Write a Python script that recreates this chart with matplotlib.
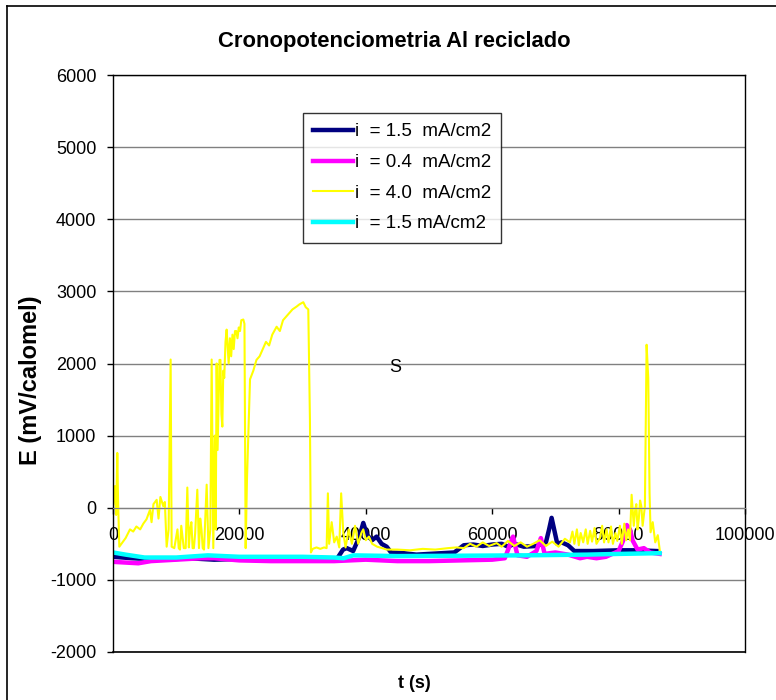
import matplotlib
matplotlib.use("Agg")
import matplotlib.pyplot as plt
from matplotlib.lines import Line2D

plt.rcParams['font.family'] = ['Liberation Sans', 'DejaVu Sans']

# ---------------- data ----------------
t_navy = [0, 3000, 8000, 12000, 16000, 20000, 25000, 30000, 34000, 35500, 36400, 37000,
          38000, 39000, 39600, 40200, 41000, 41700, 42500, 43300, 44000, 46000, 48000,
          50000, 52000, 54000, 55500, 57000, 58500, 60000, 61500, 62500, 63500, 65000,
          67000, 68500, 69000, 69400, 69800, 70300, 71000, 72000, 73000, 76000, 80000,
          83000, 86000]
e_navy = [-680, -700, -720, -700, -720, -710, -720, -710, -700, -700, -580, -560,
          -600, -400, -210, -380, -450, -400, -500, -540, -620, -630, -650,
          -640, -630, -620, -520, -510, -530, -510, -500, -540, -500, -540,
          -530, -480, -300, -140, -300, -500, -480, -520, -600, -600, -590,
          -590, -600]

t_mag = [0, 2000, 4000, 6000, 8000, 10000, 14000, 16000, 20000, 25000, 30000, 35000,
         40000, 45000, 50000, 55000, 60000, 62000, 63300, 64000, 65500, 67000, 67700,
         68300, 70000, 72000, 73900, 75000, 76500, 78000, 80000, 81000, 81300, 81800,
         82200, 83000, 84000, 85000, 86500]
e_mag = [-750, -760, -770, -740, -730, -720, -700, -700, -730, -740, -740, -740,
         -720, -740, -740, -730, -720, -700, -400, -660, -680, -600, -420,
         -640, -620, -650, -700, -680, -700, -680, -600, -400, -240, -300,
         -450, -580, -560, -620, -640]

t_yel = [50, 300, 500, 680, 800, 1000, 1500, 2000, 2690, 3200, 3700, 4300, 4800, 5300,
         5850, 6100, 6400, 6910, 7200, 7500, 7960, 8200, 8490, 8800, 9120, 9280, 9700,
         10200, 10400, 10600, 10800, 11000, 11200, 11500, 11760, 12000, 12200, 12400,
         12600, 12800, 13000, 13340, 13600, 13800, 14000, 14200, 14400, 14820, 15100,
         15400, 15610, 15870, 16100, 16250, 16400, 16550, 16700, 16850, 17000, 17150,
         17300, 17450, 17600, 17800, 17980, 18300, 18500, 18700, 18900, 19100, 19300,
         19500, 19700, 19900, 20100, 20300, 20620, 20800, 20990,
         21200, 21680, 22200, 22700, 23200, 23700, 24200, 24700, 25200, 25890, 26400,
         26900, 27400, 27900, 28400, 29060, 29500, 30110, 30500, 30900, 31160, 31320,
         31600, 32200, 32800, 33400, 33800, 34000, 34200, 34600, 35000, 35400, 35800,
         36100, 36440, 36800, 37300, 37800, 38300, 38800, 39300, 39600, 40000, 40500,
         41000, 41800, 42600, 43300, 45000, 47000, 49000, 51000, 53000, 54370, 55500,
         56500, 57500, 58500, 59500, 60700, 61500, 62500, 63500, 64500, 65500, 66490,
         67500, 68500, 69500, 70500, 71500, 72300, 72700, 73000, 73400, 73700, 74000,
         74400, 74800, 75100, 75500, 75800, 76200, 76500, 77040, 77400, 77700, 78100,
         78400, 78800, 79100, 79500, 79800, 80200, 80500, 80900, 81200, 81500, 81790,
         82060, 82400, 82600, 82800, 83000, 83200, 83400, 83600, 83800, 84000, 84160,
         84430, 84690, 84900, 85060, 85400, 85800, 86200, 86530]
e_yel = [50, 300, -100, 760, 100, -540, -480, -420, -300, -330, -260, -300, -220, -160,
         -30, -200, 50, 110, -150, 150, 20, 80, -540, -300, 2055, -540, -560,
         -300, -560, -580, -250, -400, -560, -560, 280, -550, -300, -200,
         -560, -560, -350, 250, -560, -150, -300, -560, -580, 320, -560,
         -300, 2055, -560, 1000, -300, 2000, 800, 1460, 2050, 2050, 1300,
         1125, 1900, 1800, 2300, 2470, 2000, 2350, 2100, 2400, 2200, 2450,
         2450, 2350, 2500, 2450, 2600, 2610, 2550, -560,
         400, 1780, 1900, 2050, 2100, 2200, 2300, 2250, 2400, 2510, 2450,
         2600, 2650, 2700, 2750, 2790, 2820, 2850, 2780, 2750, 1220, -620,
         -570, -550, -570, -550, -560, 200, -500, -200, -480, -400, -550,
         200, -350, -550, -300, -500, -250, -500, -350, -300, -450, -400,
         -500, -540, -560, -580, -580, -590, -570, -580, -560, -550, -560,
         -500, -540, -480, -530, -490, -540, -460, -530, -480, -540, -500,
         -450, -530, -470, -540, -430, -480, -330, -500, -300, -520, -350,
         -480, -300, -500, -320, -470, -280, -500, -420, -250, -480, -300,
         -480, -260, -500, -350, -460, -250, -500, -220, -450, -300, -450,
         180, -250, -50, 50, -300, -150, 100, 20, -250, -100, 15,
         2260, 1800, 200, -340, -200, -480, -380, -600]

t_cyan = [0, 2000, 5000, 10000, 15000, 20000, 30000, 35000, 36500, 38000, 45000,
          55000, 65000, 75000, 80000, 86500]
e_cyan = [-620, -650, -690, -690, -660, -680, -680, -690, -700, -660, -670,
          -665, -660, -650, -640, -630]

labels = ['i  = 1.5  mA/cm2', 'i  = 0.4  mA/cm2', 'i  = 4.0  mA/cm2', 'i  = 1.5 mA/cm2']
x_ticks = [0, 20000, 40000, 60000, 80000, 100000]
y_ticks = [-2000, -1000, 0, 1000, 2000, 3000, 4000, 5000, 6000]

# ---------------- figure ----------------
W, H = 776, 700
fig = plt.figure(figsize=(W / 100, H / 100), dpi=100)
ax = fig.add_axes([113 / W, 1 - 652 / H, (745 - 113) / W, (652 - 75) / H])

ax.plot(t_navy, e_navy, color='#000080', lw=3.2, label=labels[0], solid_joinstyle='round')
ax.plot(t_mag, e_mag, color='#FF00FF', lw=3.2, label=labels[1], solid_joinstyle='round')
ax.plot(t_yel, e_yel, color='#FFFF00', lw=1.5, label=labels[2])
ax.plot(t_cyan, e_cyan, color='#00FFFF', lw=3.2, label=labels[3], solid_joinstyle='round')

ax.set_xlim(0, 100000)
ax.set_ylim(-2000, 6000)
ax.set_xticks(x_ticks)
ax.set_xticklabels([str(v) for v in x_ticks])
ax.set_yticks(y_ticks)
ax.set_yticklabels([str(v) for v in y_ticks])

ax.yaxis.grid(True, color='#808080', lw=1.0)
ax.set_axisbelow(True)

ax.spines['bottom'].set_position(('data', 0))
ax.spines['bottom'].set_color('#808080')
for s in ['left', 'top', 'right']:
    ax.spines[s].set_color('black')
    ax.spines[s].set_linewidth(1.0)
ax.axhline(-2000, color='black', lw=1.2, clip_on=False, zorder=5)

ax.tick_params(axis='y', direction='out', length=4, width=1, pad=8, labelsize=13)
ax.tick_params(axis='x', direction='out', length=4, width=1, pad=10, labelsize=13)

ax.text(44600, 1945, 'S', fontsize=13, ha='center', va='center')

leg = ax.legend(loc='upper left', bbox_to_anchor=(303 / W, 1 - 113 / H),
                bbox_transform=fig.transFigure, fontsize=13.5, frameon=True,
                fancybox=False, shadow=False, handlelength=2.1, handletextpad=0.1,
                labelspacing=0.72, borderpad=0.55, borderaxespad=0)
leg.get_frame().set_edgecolor('black')
leg.get_frame().set_linewidth(1.0)

fig.text(394 / W, 1 - 41 / H, 'Cronopotenciometria Al reciclado', fontsize=15.8,
         fontweight='bold', ha='center', va='center')
fig.text(31 / W, 1 - 380 / H, 'E (mV/calomel)', fontsize=17, fontweight='bold',
         rotation=90, ha='center', va='center')
fig.text(414 / W, 1 - 683 / H, 't (s)', fontsize=13, fontweight='bold',
         ha='center', va='center')

# outer chart border
fig.add_artist(Line2D([7 / W, 7 / W], [0, 1 - 6 / H], transform=fig.transFigure,
                      color='black', lw=1.2))
fig.add_artist(Line2D([7 / W, 1], [1 - 6 / H, 1 - 6 / H], transform=fig.transFigure,
                      color='black', lw=1.2))

fig.savefig('out.png', dpi=100)
